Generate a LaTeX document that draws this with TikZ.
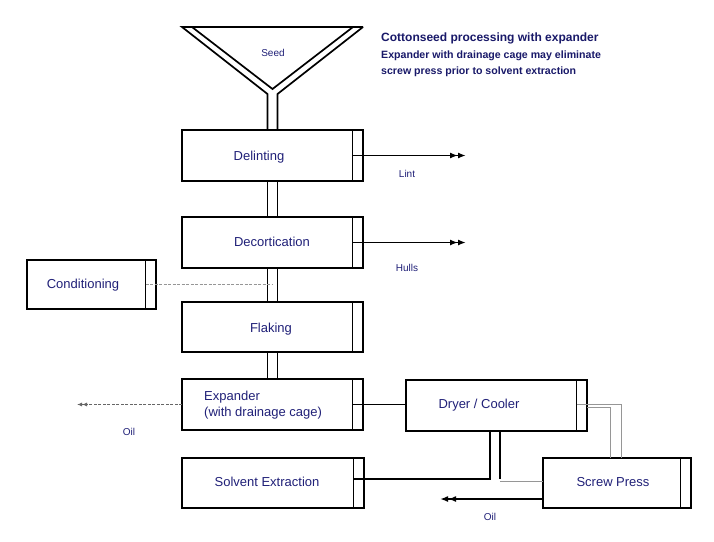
\documentclass[tikz,border=0pt]{standalone}
\usepackage{fontspec}
\setmainfont{Liberation Sans}
\usetikzlibrary{arrows.meta,calc}
\definecolor{txt}{RGB}{32,32,120}
\definecolor{ttl}{RGB}{25,25,105}
\definecolor{pipeg}{RGB}{150,150,150}
\begin{document}
\begin{tikzpicture}[x=1pt,y=-1pt,
  box/.style={draw=black, line width=2pt, fill=white, inner sep=0pt, outer sep=0pt},
  lbl/.style={text=txt, font=\fontsize{13}{16}\selectfont, inner sep=0pt},
  small/.style={text=txt, font=\fontsize{10}{12}\selectfont, inner sep=0pt},
  ttlstyle/.style={text=ttl, anchor=west, inner sep=0pt},
  wall/.style={line width=1.7pt},
  conn/.style={line width=1.7pt},
  gline/.style={draw=pipeg, line width=0.9pt},
  dtip/.style={-{Latex[length=8pt,width=6pt]Latex[length=8pt,width=6pt]}},
  stip/.style={-{Latex[length=5pt,width=4pt]Latex[length=5pt,width=4pt]}},
]
\useasboundingbox[fill=white] (0,0) rectangle (714,541);

% boxes
\node[box, minimum width=181pt, minimum height=51pt] (delint) at (272.5,155.5) {};
\node[box, minimum width=181pt, minimum height=51pt] (decort) at (272.5,242.5) {};
\node[box, minimum width=129pt, minimum height=49pt] (cond) at (91.5,284.5) {};
\node[box, minimum width=181pt, minimum height=50pt] (flak) at (272.5,327) {};
\node[box, minimum width=181pt, minimum height=51pt] (expand) at (272.5,404.5) {};
\node[box, minimum width=182pt, minimum height=50pt] (solvent) at (273,483) {};
\node[box, minimum width=181pt, minimum height=51pt] (dryer) at (496.5,405.5) {};
\node[box, minimum width=148pt, minimum height=50pt] (screw) at (617,483) {};

\foreach \n in {delint,decort,cond,flak,expand,solvent,dryer,screw}
  \draw[line width=1.5pt] ([xshift=-10.5pt]\n.north east) -- ([xshift=-10.5pt]\n.south east);

% funnel
\coordinate (ftl) at (182,27);
\coordinate (ftr) at (363,27);
\coordinate (fil) at (192,27);
\coordinate (fir) at (353,27);
\coordinate (fapex) at (272.5,89);
\coordinate (fl) at (267.5,94);
\coordinate (fr) at (277.5,94);
\draw[wall] (ftr) -- (ftl) -- (fl) -- (fl |- delint.north);
\draw[wall] (ftr) -- (fr) -- (fr |- delint.north);
\draw[wall] (fil) -- (fapex) -- (fir);

% vertical pipes
\newcommand\vpipe[2]{%
  \draw[wall] ([xshift=-5pt]#1.south) -- ([xshift=-5pt]#2.north);
  \draw[wall] ([xshift=5pt]#1.south) -- ([xshift=5pt]#2.north);}
\vpipe{delint}{decort}
\vpipe{decort}{flak}
\vpipe{flak}{expand}

% conditioning dashed feed
\draw[gline, dash pattern=on 3pt off 1.5pt] ([xshift=-10.5pt]cond.east) -- (decort.south |- cond.east);

% lint / hulls
\coordinate (lintend) at (466,155.5);
\coordinate (hullend) at (466,242.5);
\draw[conn, dtip] ([xshift=-10.5pt]delint.east) -- (lintend);
\draw[conn, dtip] ([xshift=-10.5pt]decort.east) -- (hullend);

% expander -> dryer
\draw[conn] ([xshift=-10.5pt]expand.east) -- (expand.east -| dryer.west);

% expander oil
\coordinate (oilL) at (77,404.5);
\draw[line width=1pt, draw=black!60, dash pattern=on 3pt off 1.5pt, stip] (expand.west) -- (oilL);

% dryer -> solvent extraction
\coordinate (pl) at ($(dryer.south)+(-6.5,0)$);
\coordinate (pr) at ($(dryer.south)+(3.5,0)$);
\coordinate (sx) at ([xshift=-10.5pt,yshift=4pt]solvent.east);
\draw[wall] (pl) -- (pl |- sx) -- (sx);
\draw[wall] (pr) -- (pr |- sx);
\coordinate (gs) at ($(pr |- sx)+(0,2)$);
\draw[gline] (gs) -- (gs -| screw.west);

% dryer -> screw press (grey pipe)
\draw[gline] ([xshift=-10.5pt,yshift=1.5pt]dryer.east) -| ([xshift=4pt]screw.north);
\draw[gline] ([yshift=-1.5pt]dryer.east) -| ([xshift=-7pt]screw.north);

% screw press oil
\coordinate (oilR) at (440,499);
\draw[conn, dtip] ([yshift=-16pt]screw.west) -- (oilR);

% box labels
\node[lbl] (tdelint) at (259,157) {Delinting};
\node[lbl] (tdecort) at (272,242) {Decortication};
\node[lbl] (tcond) at (83,285) {Conditioning};
\node[lbl] (tflak) at (271,329) {Flaking};
\node[lbl, anchor=west, align=left] (texp) at (204,405) {Expander\\(with drainage cage)};
\node[lbl] (tsolv) at (267,482) {Solvent Extraction};
\node[lbl] (tdry) at (479,405) {Dryer / Cooler};
\node[lbl] (tscrew) at (613,482) {Screw Press};

% small labels
\node[small] (tseed) at (273,53) {Seed};
\node[small] (tlint) at (407,174) {Lint};
\node[small] (thull) at (407,268) {Hulls};
\node[small] (toil1) at (129,432) {Oil};
\node[small] (toil2) at (490,517) {Oil};

% title
\node[ttlstyle, font=\bfseries\fontsize{12}{14}\selectfont] (t1) at (381,38) {Cottonseed processing with expander};
\node[ttlstyle, font=\bfseries\fontsize{10.6}{13}\selectfont] (t2) at (381,56) {Expander with drainage cage may eliminate};
\node[ttlstyle, font=\bfseries\fontsize{10.6}{13}\selectfont] (t3) at (381,72) {screw press prior to solvent extraction};
\end{tikzpicture}
\end{document}
